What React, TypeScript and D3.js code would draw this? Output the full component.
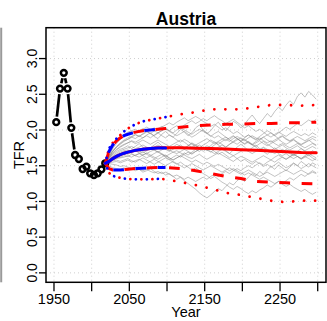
import React from 'react';
import * as d3 from 'd3';

// ---------- data ----------
const histYears = [1953, 1958, 1963, 1968, 1973, 1978, 1983, 1988, 1993, 1998, 2003, 2008, 2013, 2018];
const histTFR = [2.11, 2.58, 2.8, 2.58, 2.03, 1.65, 1.594, 1.454, 1.487, 1.394, 1.37, 1.394, 1.45, 1.534];

const qYears = [2018, 2023, 2028, 2033, 2038, 2043, 2048, 2058, 2068, 2078, 2088, 2098, 2118, 2138, 2158, 2178, 2198, 2218, 2238, 2258, 2278, 2298];
const qMedian = [1.534, 1.56, 1.6, 1.63, 1.655, 1.675, 1.69, 1.715, 1.73, 1.74, 1.75, 1.75, 1.75, 1.745, 1.74, 1.735, 1.725, 1.715, 1.705, 1.695, 1.685, 1.68];
const qUpper80 = [1.534, 1.7, 1.79, 1.85, 1.89, 1.92, 1.94, 1.97, 1.99, 2.0, 2.01, 2.02, 2.04, 2.06, 2.07, 2.08, 2.08, 2.09, 2.09, 2.1, 2.1, 2.11];
const qLower80 = [1.534, 1.46, 1.44, 1.44, 1.44, 1.445, 1.45, 1.46, 1.465, 1.47, 1.475, 1.475, 1.46, 1.43, 1.39, 1.35, 1.32, 1.28, 1.27, 1.26, 1.25, 1.245];
const qUpper95 = [1.534, 1.74, 1.82, 1.88, 1.93, 1.98, 2.02, 2.08, 2.12, 2.14, 2.16, 2.18, 2.22, 2.25, 2.29, 2.29, 2.29, 2.32, 2.35, 2.35, 2.34, 2.35];
const qLower95 = [1.534, 1.4, 1.36, 1.34, 1.33, 1.32, 1.315, 1.31, 1.31, 1.31, 1.315, 1.31, 1.27, 1.23, 1.18, 1.12, 1.09, 1.05, 1.01, 0.99, 1.01, 1.01];

const blueYears = [2018, 2023, 2028, 2033, 2038, 2043, 2048, 2058, 2068, 2078, 2088, 2098];
const blueMedian = [1.534, 1.56, 1.6, 1.63, 1.655, 1.675, 1.69, 1.715, 1.73, 1.74, 1.748, 1.748];
const blueUpper80 = [1.534, 1.7, 1.79, 1.85, 1.89, 1.92, 1.94, 1.97, 1.99, 2.0, 2.01, 2.02];
const blueLower80 = [1.534, 1.46, 1.44, 1.44, 1.44, 1.445, 1.45, 1.46, 1.465, 1.47, 1.475, 1.475];
const blueUpper95 = [1.534, 1.74, 1.82, 1.88, 1.93, 1.98, 2.02, 2.08, 2.12, 2.14, 2.16, 2.18];
const blueLower95 = [1.534, 1.4, 1.36, 1.34, 1.33, 1.32, 1.315, 1.31, 1.31, 1.31, 1.315, 1.31];

const trajYears = d3.range(2018, 2299, 5);
// trajectories, TFR x 100
const trajectories = [
  [153,162,170,176,181,185,187,190,188,192,189,193,196,191,188,194,198,193,190,195,201,197,192,196,203,207,200,195,199,206,211,204,199,205,212,209,203,208,215,221,214,209,216,223,218,226,232,227,235,241,236,247,252,246,254,249,243],
  [153,150,147,146,145,147,144,146,143,145,141,143,146,142,139,141,137,139,135,131,134,129,125,121,117,112,108,105,109,114,118,115,121,126,123,129,133,128,134,139,136,142,138,144,149,145,151,147,143,148,153,150,156,152,148,154,151],
  [153,160,166,170,173,175,178,174,177,181,176,172,175,179,183,178,174,171,176,180,177,173,178,182,179,175,170,174,178,183,179,175,171,167,172,176,180,176,171,175,179,174,170,166,171,175,171,168,173,169,165,170,174,170,166,171,168],
  [153,164,174,181,187,192,195,198,196,199,202,198,195,199,196,192,189,193,190,186,183,187,184,180,176,179,175,171,174,170,166,169,165,161,164,160,156,159,155,152,156,153,149,152,148,151,155,151,147,150,154,150,146,149,153,150,147],
  [153,156,159,161,162,164,163,166,164,162,165,168,165,162,159,162,165,161,158,161,164,168,165,169,173,170,174,178,175,179,183,180,176,180,184,188,185,189,193,190,187,191,195,199,196,192,196,200,204,201,205,209,206,210,214,211,215],
  [153,158,162,165,167,168,166,169,171,168,165,167,170,172,169,166,163,166,169,171,168,165,162,160,163,166,162,159,162,165,168,165,162,159,156,160,163,161,158,155,158,161,164,161,158,162,165,162,159,162,166,163,160,163,160,157,160],
  [153,163,171,177,182,186,189,191,194,191,195,198,195,192,196,199,202,198,195,192,195,198,194,190,193,197,200,196,192,189,192,188,185,189,192,188,184,181,184,180,177,181,184,180,177,173,176,179,175,172,175,178,174,171,174,177,174],
  [153,157,161,164,166,168,170,167,164,167,170,166,163,160,163,166,162,159,155,152,155,151,148,144,147,143,139,136,132,135,131,127,124,120,117,121,118,114,111,115,112,116,119,123,120,124,128,125,129,133,130,134,138,135,139,143,140],
  [153,160,167,172,176,179,182,185,183,186,189,192,189,193,196,199,202,199,203,206,203,207,210,213,209,212,216,213,217,220,216,213,209,212,215,211,207,203,206,202,198,201,197,193,196,192,188,191,187,184,187,183,180,183,186,182,179],
  [153,155,157,158,156,158,160,157,155,158,161,158,155,152,155,158,161,158,162,165,162,166,169,166,170,173,176,172,169,173,176,179,176,180,183,180,184,187,183,180,184,187,190,186,183,186,189,192,188,185,188,191,188,185,188,191,189],
  [153,161,168,173,177,180,182,184,181,183,186,183,180,183,186,183,180,177,180,183,186,183,179,176,179,182,185,188,184,181,184,187,190,186,183,186,189,186,182,179,182,185,181,178,181,184,187,183,180,183,186,182,179,182,185,188,185],
  [153,153,152,151,149,150,148,146,148,145,143,145,142,140,142,139,141,138,135,137,134,131,134,131,128,131,134,131,135,138,135,139,142,139,143,146,143,147,150,147,151,154,151,155,158,155,159,162,159,163,166,163,160,164,167,164,161],
  [153,159,164,168,171,173,175,177,174,176,179,176,173,176,179,176,173,170,173,176,179,175,178,181,178,175,179,182,186,183,180,184,187,184,188,191,188,185,189,192,189,186,190,193,190,194,197,194,191,195,198,195,192,195,192,196,193],
  [153,165,176,184,190,194,197,199,201,198,201,204,201,198,202,205,202,199,196,200,203,200,197,194,198,201,198,195,191,195,198,194,190,187,191,188,184,180,183,179,176,172,175,171,168,171,167,164,167,163,160,163,159,162,165,161,158],
  [153,156,158,160,161,162,164,162,165,167,164,161,164,167,170,167,164,161,158,161,164,161,158,155,158,155,152,155,152,149,152,149,146,143,146,143,140,137,140,137,134,131,134,131,128,125,128,124,121,124,120,117,114,117,113,110,113],
  [153,158,163,166,169,171,172,170,173,171,168,171,174,172,169,172,175,172,169,167,170,173,170,167,170,173,176,173,170,167,170,173,170,167,164,167,170,173,170,167,170,173,176,173,170,167,170,173,170,167,164,167,170,167,164,167,170],
  [153,154,155,156,154,156,158,155,157,159,156,153,156,159,156,153,150,153,156,153,150,147,150,153,150,147,144,147,150,147,144,141,144,147,144,141,138,141,144,141,138,135,138,141,138,135,138,141,144,141,138,141,144,141,138,141,139],
  [153,162,170,176,180,184,187,190,193,191,194,197,200,203,200,204,207,210,207,211,214,217,213,216,219,216,212,209,205,208,204,200,203,199,195,198,194,190,193,189,186,189,185,182,185,181,178,181,178,175,178,181,178,175,178,181,178],
];

const xTicks = [1950, 2000, 2050, 2100, 2150, 2200, 2250, 2300];
const xTickLabels = ['1950', '', '2050', '', '2150', '', '2250', ''];
const yTicks = [0, 0.5, 1, 1.5, 2, 2.5, 3];
const yTickLabels = ['0.0', '0.5', '1.0', '1.5', '2.0', '2.5', '3.0'];

// ---------- layout ----------
const W = 327, H = 321;
const L = 46, R = 326, T = 27.7, B = 282.3;
const FONT = "'Liberation Sans', Arial, Helvetica, sans-serif";

const x = d3.scaleLinear().domain([1939.4, 2311]).range([L, R]);
const y = d3.scaleLinear().domain([-0.132, 3.432]).range([B, T]);

const lineOf = (xs: number[], ys: number[]) =>
  d3.line<number>().x((_, i) => x(xs[i])).y((v) => y(v))(ys) || '';

const RED = '#FF0000';
const BLUE = '#0000FF';
const DASH = '10.7 11.6';
const DOT = '0.01 11';

export default function App() {
  // historical segments with gaps (R type="b")
  const segs: { x1: number; y1: number; x2: number; y2: number }[] = [];
  for (let i = 0; i < histYears.length - 1; i++) {
    const ax = x(histYears[i]), ay = y(histTFR[i]);
    const bx = x(histYears[i + 1]), by = y(histTFR[i + 1]);
    const dx = bx - ax, dy = by - ay;
    const len = Math.hypot(dx, dy);
    const gap = 5.5;
    if (len > 2 * gap + 1) {
      const ux = dx / len, uy = dy / len;
      segs.push({ x1: ax + ux * gap, y1: ay + uy * gap, x2: bx - ux * gap, y2: by - uy * gap });
    }
  }

  return (
    <svg width={W} height={H} style={{ position: 'absolute', left: 0, top: 0, background: '#fff' }} fontFamily={FONT}>
      <rect x={0} y={0} width={W} height={H} fill="#fff" />
      {/* partial neighbour panel edge */}
      <line x1={1.2} x2={1.2} y1={T} y2={B} stroke="#9a9a9a" strokeWidth={2} />

      {/* grid */}
      {xTicks.map((t) => (
        <line key={'gx' + t} x1={x(t)} x2={x(t)} y1={T} y2={B} stroke="#cfcfcf" strokeWidth={1} strokeDasharray="1 3" />
      ))}
      {yTicks.map((t) => (
        <line key={'gy' + t} x1={L} x2={R} y1={y(t)} y2={y(t)} stroke="#cfcfcf" strokeWidth={1} strokeDasharray="1 3" />
      ))}

      {/* trajectories */}
      <g fill="none" stroke="#7a7a7a" strokeOpacity={0.45} strokeWidth={1}>
        {trajectories.map((tr, k) => {
          const vals = tr.slice(0, trajYears.length).map((v) => v / 100);
          return <path key={'tr' + k} d={lineOf(trajYears, vals)} />;
        })}
      </g>

      {/* historical */}
      <g stroke="#000" strokeWidth={2.7} strokeLinecap="butt">
        {segs.map((s, i) => (
          <line key={'hs' + i} x1={s.x1} y1={s.y1} x2={s.x2} y2={s.y2} />
        ))}
      </g>
      <g fill="none" stroke="#000" strokeWidth={2.5}>
        {histYears.map((yr, i) => (
          <circle key={'hc' + i} cx={x(yr)} cy={y(histTFR[i])} r={2.9} />
        ))}
      </g>

      {/* red projections */}
      <g fill="none" stroke={RED}>
        <path d={lineOf(qYears, qMedian)} strokeWidth={3} strokeLinecap="round" />
        <path d={lineOf(qYears, qUpper80)} strokeWidth={3} strokeDasharray={DASH} />
        <path d={lineOf(qYears, qLower80)} strokeWidth={3} strokeDasharray={DASH} />
        <path d={lineOf(qYears, qUpper95)} strokeWidth={2.8} strokeDasharray={DOT} strokeLinecap="round" />
        <path d={lineOf(qYears, qLower95)} strokeWidth={2.8} strokeDasharray={DOT} strokeLinecap="round" />
      </g>
      {/* blue projections */}
      <g fill="none" stroke={BLUE}>
        <path d={lineOf(blueYears, blueMedian)} strokeWidth={3} strokeLinecap="round" />
        <path d={lineOf(blueYears, blueUpper80)} strokeWidth={3} strokeDasharray={DASH} strokeDashoffset={-11} />
        <path d={lineOf(blueYears, blueLower80)} strokeWidth={3} strokeDasharray={DASH} strokeDashoffset={-11} />
        <path d={lineOf(blueYears, blueUpper95)} strokeWidth={2.8} strokeDasharray={DOT} strokeDashoffset={-5.5} strokeLinecap="round" />
        <path d={lineOf(blueYears, blueLower95)} strokeWidth={2.8} strokeDasharray={DOT} strokeDashoffset={-5.5} strokeLinecap="round" />
      </g>

      {/* frame */}
      <rect x={L} y={T} width={R - L} height={B - T} fill="none" stroke="#000" strokeWidth={1.5} />

      {/* x axis */}
      {xTicks.map((t, i) => (
        <g key={'xt' + t}>
          <line x1={x(t)} x2={x(t)} y1={B} y2={B + 9} stroke="#000" strokeWidth={1.3} />
          {xTickLabels[i] && (
            <text x={x(t)} y={303.5} textAnchor="middle" fontSize={14.5} fill="#000">
              {xTickLabels[i]}
            </text>
          )}
        </g>
      ))}
      <text x={(L + R) / 2} y={316.5} textAnchor="middle" fontSize={14.5} fill="#000">Year</text>

      {/* y axis */}
      {yTicks.map((t, i) => (
        <g key={'yt' + t}>
          <line x1={L - 7} x2={L} y1={y(t)} y2={y(t)} stroke="#000" strokeWidth={1.3} />
          <text transform={`translate(37,${y(t)}) rotate(-90)`} textAnchor="middle" fontSize={14} fill="#000">
            {yTickLabels[i]}
          </text>
        </g>
      ))}
      <text transform={`translate(24,${(T + B) / 2}) rotate(-90)`} textAnchor="middle" fontSize={14.5} fill="#000">TFR</text>

      {/* title */}
      <text x={(L + R) / 2} y={25} textAnchor="middle" fontSize={17.5} fontWeight="bold" fill="#000">Austria</text>
    </svg>
  );
}
